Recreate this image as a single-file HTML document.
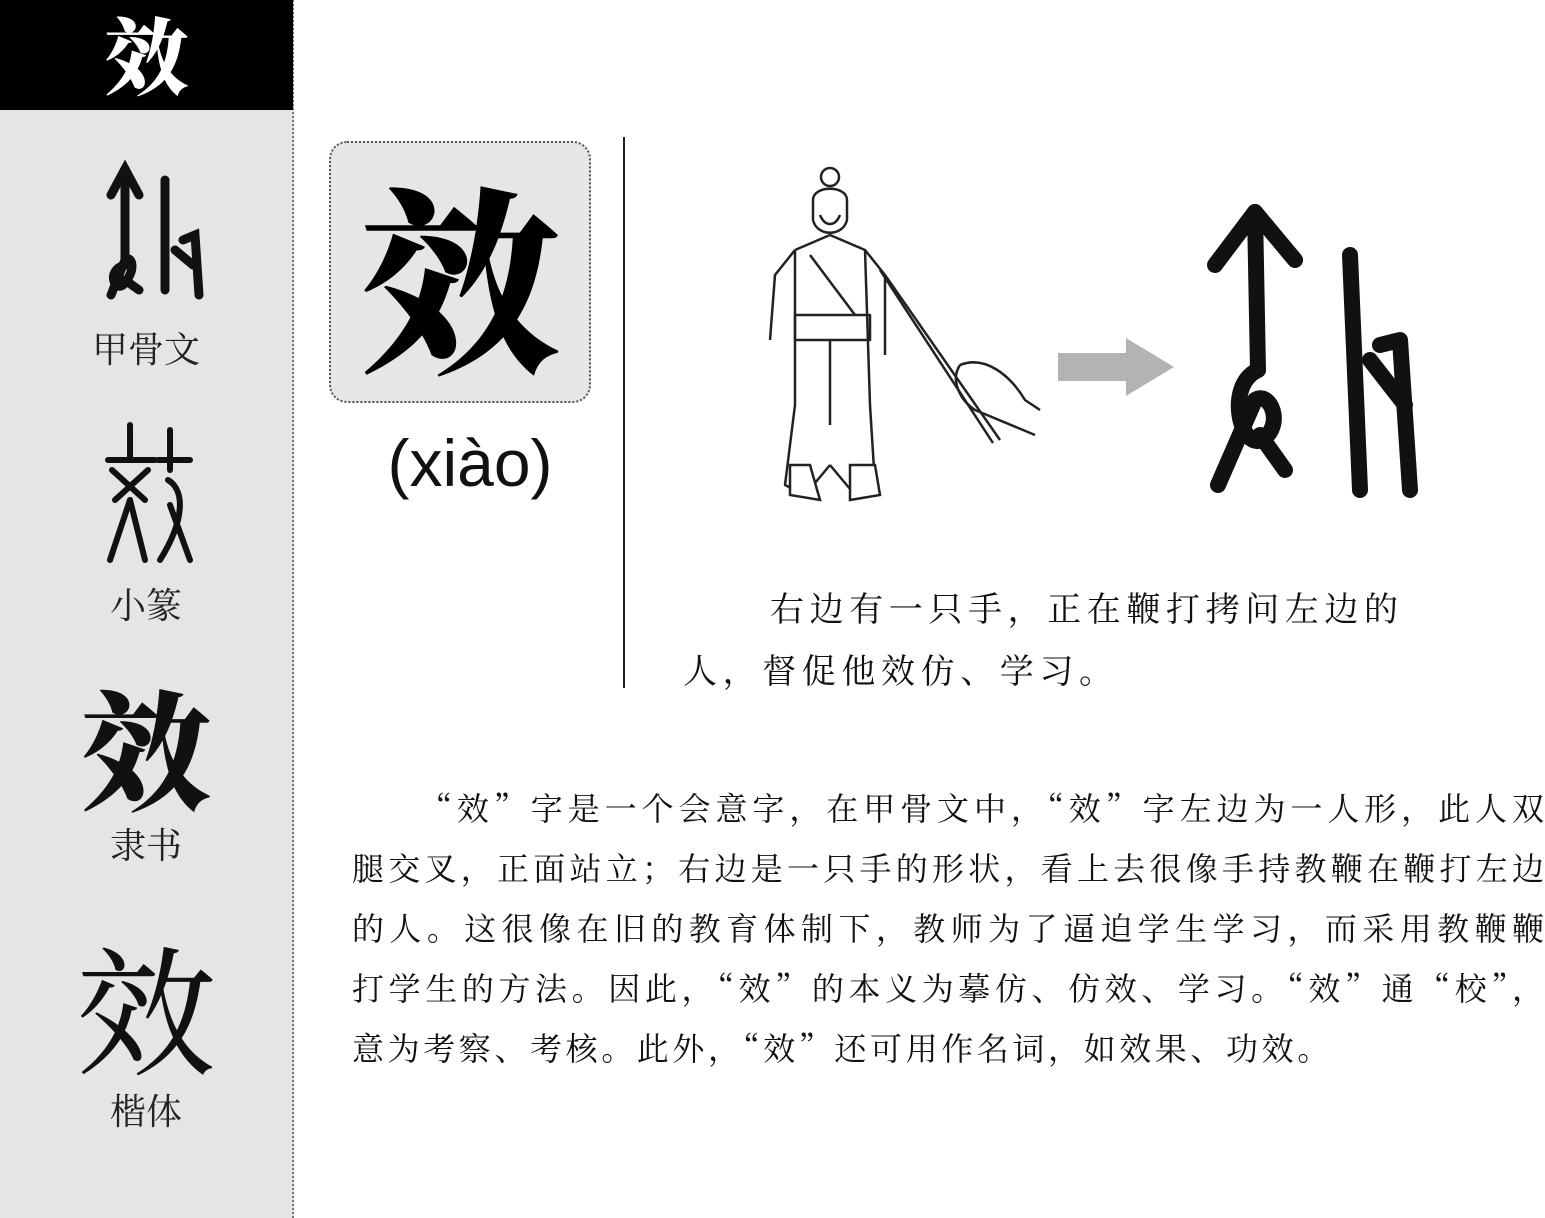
<!DOCTYPE html>
<html><head><meta charset="utf-8">
<style>
html,body{margin:0;padding:0;}
body{width:1545px;height:1218px;position:relative;background:#fff;overflow:hidden;font-family:"Liberation Serif","Noto Serif CJK SC",serif;}
.abs{position:absolute;}
#sidebar{left:0;top:0;width:292px;height:1218px;background:#e5e5e5;border-right:2px dotted #777;}
#head{left:0;top:0;width:293px;height:110px;background:#000;color:#fff;font:900 84px "Noto Serif CJK SC",serif;text-align:center;line-height:106px;}
.lbl{width:292px;text-align:center;font:36px "Noto Serif CJK SC",serif;color:#222;}
.big{width:292px;text-align:center;color:#111;font-family:"Noto Serif CJK SC",serif;}
#box{left:329px;top:141px;width:258px;height:258px;border:2px dotted #555;border-radius:18px;background:#e6e6e6;text-align:center;font:900 200px/258px "Noto Serif CJK SC",serif;}
#pinyin{left:330px;top:425px;width:280px;text-align:center;font:66px "Liberation Sans",sans-serif;color:#111;}
#vline{left:623px;top:137px;width:2px;height:551px;background:#222;}
.cap{font:34px "Noto Serif CJK SC",serif;letter-spacing:5.6px;color:#111;white-space:nowrap;}
.para{left:352px;width:1192px;font:32px "Noto Serif CJK SC",serif;color:#111;white-space:nowrap;text-align:justify;text-align-last:justify;}
</style></head><body>
<div id="sidebar" class="abs"></div>
<div id="head" class="abs">效</div>

<svg class="abs" style="left:95px;top:155px" width="120" height="150">
<g fill="none" stroke="#111" stroke-width="9" stroke-linecap="round">
<path d="M16 40 L30 14 L44 40"/><path d="M30 14 L30 110"/>
<path d="M30 110 C10 115 20 140 30 128 C42 112 36 100 30 105 L16 140"/>
<path d="M30 125 L44 135"/>
<path d="M70 25 L70 135"/><path d="M88 85 L100 80 L104 140"/><path d="M80 95 L98 110"/>
</g></svg>
<div class="abs lbl" style="top:322px">甲骨文</div>

<svg class="abs" style="left:100px;top:420px" width="100" height="150">
<g fill="none" stroke="#111" stroke-width="6" stroke-linecap="round">
<path d="M30 5 L30 40"/><path d="M8 40 L55 40"/><path d="M12 50 L45 80"/><path d="M48 50 L15 80"/>
<path d="M30 80 L10 140"/><path d="M30 80 L45 140"/>
<path d="M70 10 L70 50"/><path d="M58 40 L90 40"/><path d="M68 60 C85 70 85 100 60 140"/><path d="M70 85 L90 140"/>
</g></svg>
<div class="abs lbl" style="top:578px">小篆</div>

<div class="abs big" style="top:675px;font-size:130px;font-weight:900;line-height:140px">效</div>
<div class="abs lbl" style="top:818px">隶书</div>

<div class="abs big" style="top:930px;font-size:140px;line-height:150px">效</div>
<div class="abs lbl" style="top:1084px">楷体</div>

<div id="box" class="abs">效</div>
<div id="pinyin" class="abs">(xiào)</div>
<div id="vline" class="abs"></div>

<svg class="abs" style="left:735px;top:165px" width="320" height="345">
<g fill="none" stroke="#222" stroke-width="2.5" stroke-linejoin="round">
<circle cx="95" cy="12" r="9"/>
<path d="M78 35 C78 20 112 20 112 35 L112 55 C108 72 82 72 78 55 Z"/>
<path d="M85 50 C90 62 100 62 105 50" />
<path d="M60 85 L95 70 L130 85 L150 110 L150 190 M60 85 L40 110 L35 175 M60 85 L60 240 L50 320 L70 330 L95 300 M130 85 L135 240 L140 320 L120 330 L95 300"/>
<path d="M60 150 L135 150 L135 175 L60 175 Z"/>
<path d="M75 90 L120 150"/><path d="M95 175 L95 260"/>
<path d="M150 110 L265 275"/><path d="M145 105 L258 278"/>
<path d="M225 200 C250 190 275 210 290 235 L305 245 M225 200 C215 215 225 235 240 245 L300 270"/>
</g>
<g fill="#fff" stroke="#222" stroke-width="2.5"><path d="M55 300 L55 330 L85 335 L75 300Z"/><path d="M115 300 L115 335 L145 330 L140 300Z"/></g>
</svg>

<svg class="abs" style="left:1058px;top:338px" width="118" height="60">
<path d="M0 15 L68 15 L68 0 L116 29 L68 58 L68 43 L0 43 Z" fill="#b3b3b3"/></svg>

<svg class="abs" style="left:1200px;top:200px" width="230" height="300">
<g fill="none" stroke="#111" stroke-width="16" stroke-linecap="round" stroke-linejoin="round">
<path d="M15 65 L55 12 L95 60"/><path d="M55 12 L58 170"/>
<path d="M58 170 C25 185 40 250 62 240 C85 225 70 190 55 200 L18 285"/>
<path d="M60 235 L85 270"/>
<path d="M150 55 L160 290"/><path d="M180 145 L200 140 L210 290"/><path d="M170 160 L205 205"/>
</g></svg>

<div class="abs cap" style="left:770px;top:582px">右边有一只手，正在鞭打拷问左边的</div>
<div class="abs cap" style="left:683px;top:644px">人，督促他效仿、学习。</div>

<div class="abs para" style="top:784px;left:420px;width:1124px">“效”字是一个会意字，在甲骨文中，“效”字左边为一人形，此人双</div>
<div class="abs para" style="top:844px">腿交叉，正面站立；右边是一只手的形状，看上去很像手持教鞭在鞭打左边</div>
<div class="abs para" style="top:904px">的人。这很像在旧的教育体制下，教师为了逼迫学生学习，而采用教鞭鞭</div>
<div class="abs para" style="top:964px">打学生的方法。因此，“效”的本义为摹仿、仿效、学习。“效”通“校”，</div>
<div class="abs para" style="top:1024px;text-align-last:left;letter-spacing:3.6px">意为考察、考核。此外，“效”还可用作名词，如效果、功效。</div>
</body></html>
